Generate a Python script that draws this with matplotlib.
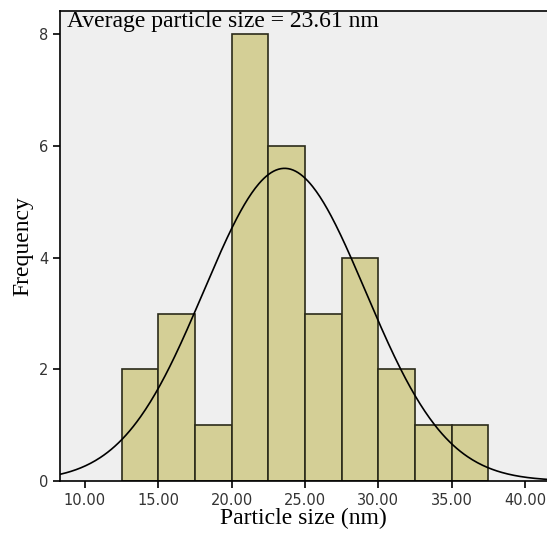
import matplotlib.pyplot as plt
import numpy as np

# histogram bins (nm) and counts
bin_edges = [12.5, 15.0, 17.5, 20.0, 22.5, 25.0, 27.5, 30.0, 32.5, 35.0, 37.5]
counts = [2, 3, 1, 8, 6, 3, 4, 2, 1, 1]
mean_size = 23.61
std_size = 5.52
xticks = [10, 15, 20, 25, 30, 35, 40]
yticks = [0, 2, 4, 6, 8]

fig = plt.figure(figsize=(5.47, 5.4), dpi=100)
ax = fig.add_axes([60/547, 1-481/540, 1-60/547, (481-11)/540])
ax.set_facecolor("#efefef")

widths = np.diff(bin_edges)
ax.bar(bin_edges[:-1], counts, width=widths, align="edge",
       color="#d4cf96", edgecolor="#2b2b1a", linewidth=1.2, zorder=2)

# fitted normal curve scaled to counts
n = sum(counts)
bw = widths[0]
x = np.linspace(8.3, 41.5, 400)
y = n * bw / (std_size * np.sqrt(2*np.pi)) * np.exp(-0.5*((x-mean_size)/std_size)**2)
ax.plot(x, y, color="black", linewidth=1.2, zorder=3)

ax.set_xlim(8.3, 41.5)
ax.set_ylim(0, 8.42)
ax.set_xticks(xticks)
ax.set_xticklabels(["%.2f" % v for v in xticks])
ax.set_yticks(yticks)
ax.spines["right"].set_visible(False)
for s in ["left", "bottom", "top"]:
    ax.spines[s].set_linewidth(1.2)
ax.tick_params(direction="out", length=5, width=1.2, labelsize=10.5,
               labelcolor="#333333")

ax.set_xlabel("Particle size (nm)", family="Liberation Serif", fontsize=17, labelpad=0)
ax.set_ylabel("Frequency", family="Liberation Serif", fontsize=17, labelpad=4)
ax.text(0.014, 1.0, "Average particle size = 23.61 nm", transform=ax.transAxes,
        family="Liberation Serif", fontsize=17, va="top", ha="left")

fig.savefig("out.png", dpi=100)
